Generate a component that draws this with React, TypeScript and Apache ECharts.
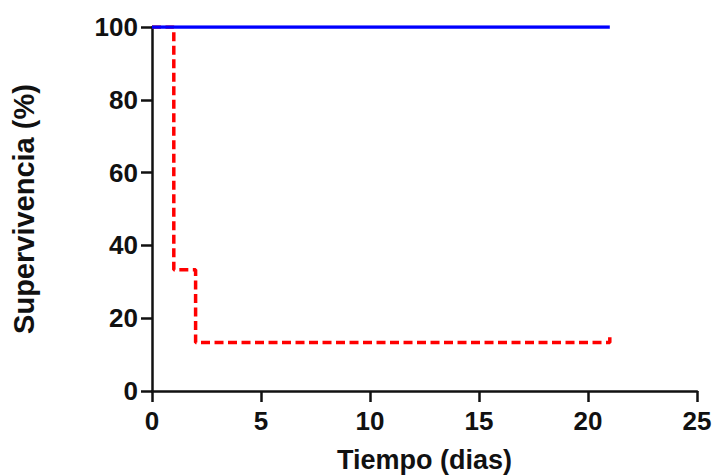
import React, { useEffect, useRef } from "react";
import * as echarts from "echarts";

const xTicks = [0, 5, 10, 15, 20, 25];
const yTicks = [0, 20, 40, 60, 80, 100];
const controlX = [0, 21];
const controlY = [100, 100];
const treatedX = [0, 1, 1, 2, 2, 21, 21];
const treatedY = [100, 100, 33.33, 33.33, 13.33, 13.33, 16];
const xTitle = "Tiempo (dias)";
const yTitle = "Supervivencia (%)";

export default function App() {
  const ref = useRef<HTMLDivElement>(null);
  useEffect(() => {
    if (!ref.current) return;
    const chart = echarts.init(ref.current, null, { renderer: "svg" });
    const font = "'Liberation Sans', Arial, sans-serif";
    chart.setOption({
      animation: false,
      backgroundColor: "#ffffff",
      grid: { left: 152, right: 18, top: 27, bottom: 85, outerBoundsMode: "none", containLabel: false },
      xAxis: {
        type: "value",
        min: xTicks[0],
        max: xTicks[xTicks.length - 1],
        interval: xTicks[1] - xTicks[0],
        name: xTitle,
        nameLocation: "middle",
        nameGap: 55,
        nameTextStyle: { fontFamily: font, fontWeight: "bold", fontSize: 27, color: "#111" },
        axisLine: { show: true, onZero: false, lineStyle: { color: "#111", width: 2.5 } },
        axisTick: { show: true, length: 11, lineStyle: { color: "#111", width: 2.5 } },
        axisLabel: { margin: 17, fontFamily: font, fontWeight: "bold", fontSize: 26, color: "#111" },
        splitLine: { show: false },
      },
      yAxis: {
        type: "value",
        min: yTicks[0],
        max: yTicks[yTicks.length - 1],
        interval: yTicks[1] - yTicks[0],
        name: yTitle,
        nameLocation: "middle",
        nameGap: 114,
        nameTextStyle: { fontFamily: font, fontWeight: "bold", fontSize: 29, color: "#111" },
        axisLine: { show: true, onZero: false, lineStyle: { color: "#111", width: 2.5 } },
        axisTick: { show: true, length: 11, lineStyle: { color: "#111", width: 2.5 } },
        axisLabel: { margin: 14, fontFamily: font, fontWeight: "bold", fontSize: 26, color: "#111" },
        splitLine: { show: false },
      },
      series: [
        {
          type: "line",
          name: "treated",
          data: treatedX.map((x, i) => [x, treatedY[i]]),
          showSymbol: false,
          symbol: "none",
          lineStyle: { color: "#ff0000", width: 3.5, type: [9, 4.5] },
          z: 2,
        },
        {
          type: "line",
          name: "control",
          data: controlX.map((x, i) => [x, controlY[i]]),
          showSymbol: false,
          symbol: "none",
          lineStyle: { color: "#0000ff", width: 3.5 },
          z: 3,
        },
      ],
    });
    return () => chart.dispose();
  }, []);
  return <div ref={ref} style={{ position: "fixed", left: 0, top: 0, width: 715, height: 476 }} />;
}
